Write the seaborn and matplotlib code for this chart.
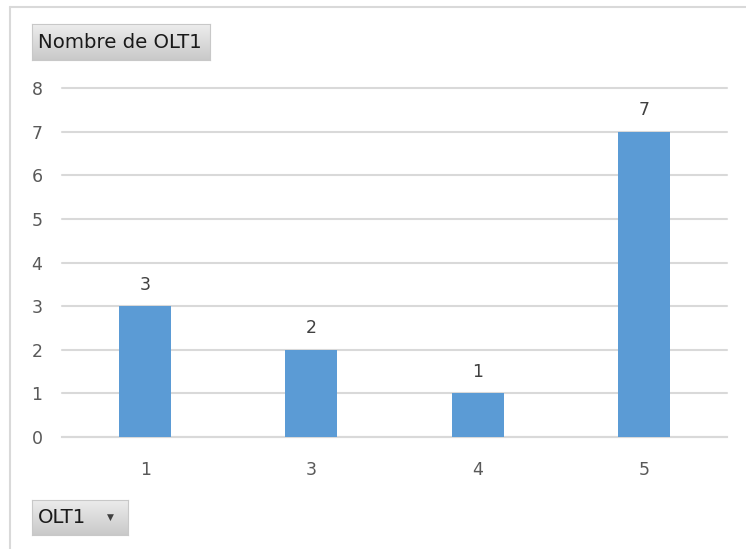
import matplotlib
matplotlib.use("Agg")
import matplotlib.pyplot as plt
import seaborn as sns
import numpy as np
import pandas as pd
from matplotlib.lines import Line2D

categories = ["1", "3", "4", "5"]
values = [3, 2, 1, 7]
y_ticks = [0, 1, 2, 3, 4, 5, 6, 7, 8]
field_button = "Nombre de OLT1"
axis_button = "OLT1"

sns.set_theme(style="white")
plt.rcParams['font.family'] = ['DejaVu Sans']

W, H = 746, 549
fig = plt.figure(figsize=(W / 100, H / 100), dpi=100)

df = pd.DataFrame({"cat": categories, "val": values})

ax = fig.add_axes([62 / W, 1 - 437 / H, (727 - 62) / W, (437 - 88) / H])
sns.barplot(data=df, x="cat", y="val", color="#5B9BD5", saturation=1,
            width=0.313, ax=ax, zorder=3, edgecolor="none", linewidth=0)
ax.set_ylim(0, 8)
ax.set_xlim(-0.5, 3.5)
ax.set_yticks(y_ticks)
ax.set_yticklabels([str(t) for t in y_ticks])
ax.grid(axis="y", color="#D9D9D9", linewidth=1.5, zorder=0)
for gl in ax.get_ygridlines():
    gl.set_clip_on(False)
ax.set_axisbelow(True)
for s in ["top", "right", "left"]:
    ax.spines[s].set_visible(False)
ax.spines["bottom"].set_color("#D9D9D9")
ax.spines["bottom"].set_linewidth(1.5)
ax.set_xlabel("")
ax.set_ylabel("")
ax.tick_params(axis="both", length=0, labelsize=12.5, labelcolor="#595959")
ax.tick_params(axis="y", pad=14)
ax.tick_params(axis="x", pad=17)
for i, v in enumerate(values):
    ax.annotate(str(v), (i, v), xytext=(0, 9), textcoords="offset points",
                ha="center", va="bottom", fontsize=12.5, color="#404040")

# outer chart frame
fig.add_artist(Line2D([10 / W, 10 / W], [0, 1 - 7 / H], color="#D9D9D9", lw=1.5))
fig.add_artist(Line2D([10 / W, 1], [1 - 7 / H, 1 - 7 / H], color="#D9D9D9", lw=1.5))


def button(x0, y0, x1, y1, label, fs, arrow=False):
    bax = fig.add_axes([x0 / W, 1 - y1 / H, (x1 - x0) / W, (y1 - y0) / H])
    grad = np.linspace(0.93, 0.79, 50).reshape(-1, 1)
    bax.imshow(np.dstack([grad, grad, grad]), aspect="auto", extent=[0, 1, 0, 1])
    bax.set_xlim(0, 1)
    bax.set_ylim(0, 1)
    bax.set_xticks([])
    bax.set_yticks([])
    for s in bax.spines.values():
        s.set_color("#C8C8C8")
        s.set_linewidth(0.8)
    bax.text(6 / (x1 - x0), 0.5, label, ha="left", va="center", fontsize=fs,
             color="#1a1a1a")
    if arrow:
        bax.text(1 - 18 / (x1 - x0), 0.5, "▼", ha="center", va="center",
                 fontsize=6.5, color="#404040", transform=bax.transAxes)


button(32, 24, 210, 60, field_button, 14.2)
button(32, 500, 128, 535, axis_button, 14.2, arrow=True)

fig.savefig("out.png", dpi=100, facecolor="white")
